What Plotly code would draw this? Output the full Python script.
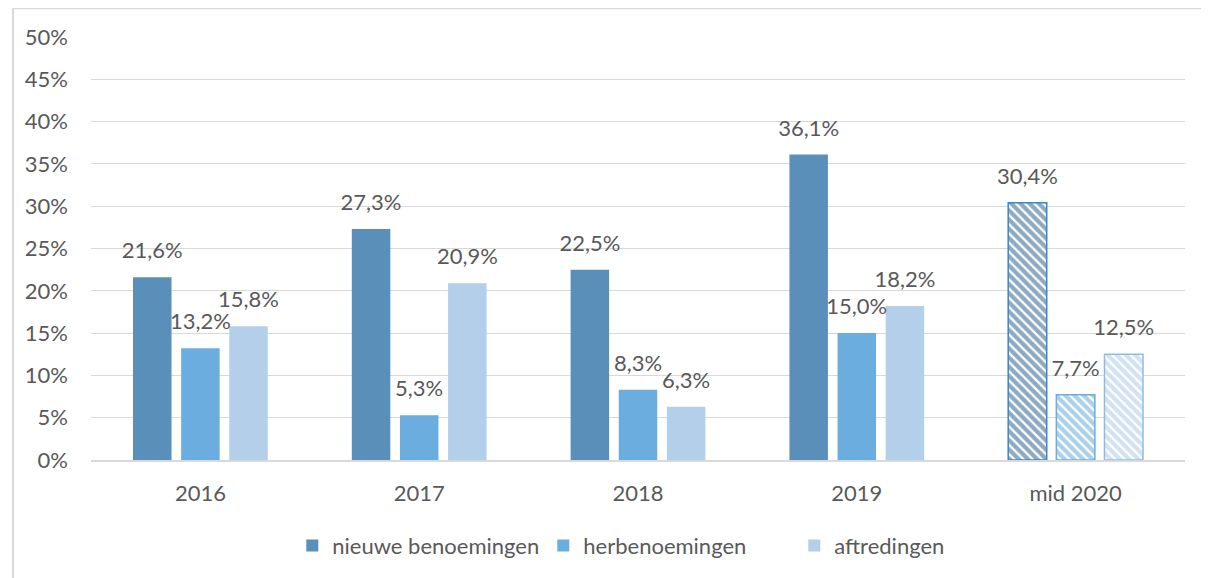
import plotly.graph_objects as go

categories = ["2016", "2017", "2018", "2019", "mid 2020"]
nieuwe = [21.6, 27.3, 22.5, 36.1, 30.4]
herbenoemingen = [13.2, 5.3, 8.3, 15.0, 7.7]
aftredingen = [15.8, 20.9, 6.3, 18.2, 12.5]
y_ticks = [0, 5, 10, 15, 20, 25, 30, 35, 40, 45, 50]

series = [
    ("nieuwe benoemingen", nieuwe, "#5A8FB9", "#1B5587", "#3C87C9"),
    ("herbenoemingen", herbenoemingen, "#6AADDE", "#55A2D8", "#6AADDE"),
    ("aftredingen", aftredingen, "#B3CFEA", "#A5C6E7", "#8FBBE3"),
]

FONT = "Lato, 'Open Sans', sans-serif"
TXT = "#595959"
FS = 22

fig = go.Figure()
for i, (name, vals, col, hatch, border) in enumerate(series):
    og = str(i)
    # solid bars (all but last category)
    fig.add_trace(go.Bar(
        name=name, x=categories[:-1], y=vals[:-1], offsetgroup=og,
        marker=dict(color=col, line=dict(width=0)),
        hoverinfo="skip", legendgroup=name,
    ))
    # hatched bar (last category)
    fig.add_trace(go.Bar(
        name=name, x=categories[-1:], y=vals[-1:], offsetgroup=og, showlegend=False,
        marker=dict(color="white", line=dict(color=border, width=1.5),
                    pattern=dict(shape="\\", fgcolor=hatch, bgcolor="white",
                                 size=6.5, solidity=0.65, fillmode="overlay")),
        hoverinfo="skip", legendgroup=name,
    ))

# value labels
for i, (name, vals, col, hatch, border) in enumerate(series):
    fig.add_trace(go.Scatter(
        x=categories, y=vals, mode="text+markers", offsetgroup=str(i),
        marker=dict(size=20, opacity=0),
        text=[f"{v:.1f}%".replace(".", ",") for v in vals],
        textposition="top center", cliponaxis=False,
        textfont=dict(family=FONT, size=FS, color=TXT),
        showlegend=False, hoverinfo="skip",
    ))

fig.update_layout(
    width=1201, height=570,
    margin=dict(l=83, r=24, t=29, b=117),
    paper_bgcolor="white", plot_bgcolor="white",
    barmode="group", bargap=0.34, bargroupgap=0.2,
    scattermode="group", scattergap=0.34,
    font=dict(family=FONT, size=FS, color=TXT),
    showlegend=True,
    legend=dict(orientation="h", x=0.184, xanchor="left", y=-0.2, yanchor="middle",
                entrywidth=206, entrywidthmode="pixels",
                font=dict(family=FONT, size=FS, color=TXT), traceorder="normal"),
    shapes=[
        dict(type="line", xref="paper", yref="paper", x0=-0.0713, x1=-0.0713, y0=-0.5, y1=1.068,
             line=dict(color="#D9D9D9", width=2)),
        dict(type="line", xref="paper", yref="paper", x0=-0.0713, x1=1.1, y0=1.068, y1=1.068,
             line=dict(color="#D9D9D9", width=2)),
    ],
)
fig.update_yaxes(range=[0, 50], tickvals=y_ticks, ticktext=[f"{t}%" for t in y_ticks],
                 showgrid=True, gridcolor="#D9D9D9", gridwidth=1, zeroline=False,
                 showline=False, ticks="", ticklabelstandoff=22,
                 tickfont=dict(family=FONT, size=FS, color=TXT))
fig.update_xaxes(showline=True, linecolor="#D9D9D9", linewidth=1.5, ticks="",
                 ticklabelstandoff=13, tickfont=dict(family=FONT, size=FS, color=TXT))

fig.write_html("out.html")
